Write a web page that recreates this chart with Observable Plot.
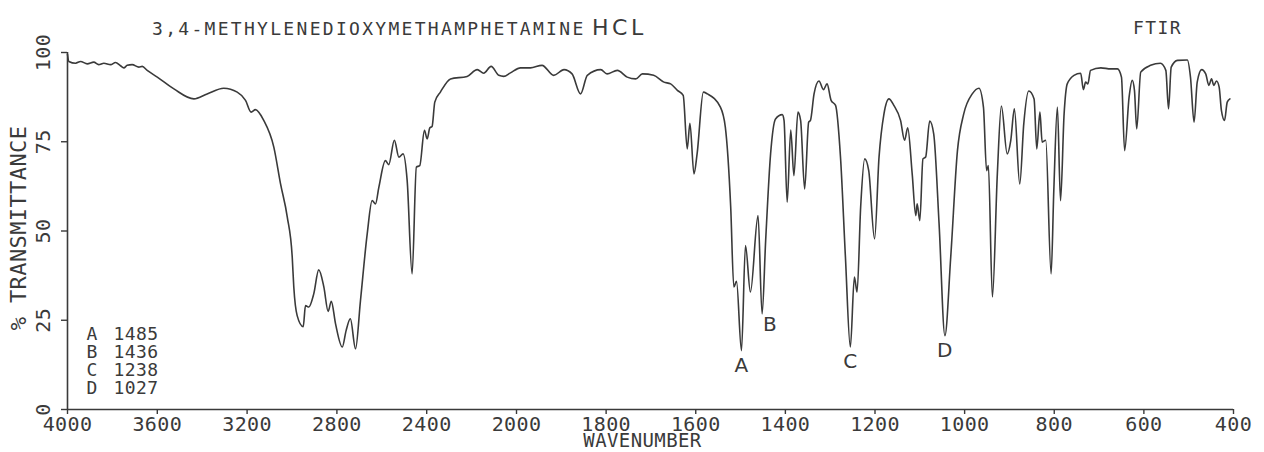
<!DOCTYPE html>
<html><head><meta charset="utf-8">
<script src="https://cdn.jsdelivr.net/npm/d3@7"></script>
<script src="https://cdn.jsdelivr.net/npm/@observablehq/plot@0.6"></script>
<style>
body{margin:0;background:#fff}
#wrap{position:relative;width:1264px;height:452px;overflow:hidden;background:#fff}
.lbl{position:absolute;font-family:"DejaVu Sans Mono",monospace;color:#3a3a3a;white-space:nowrap;line-height:1}
</style></head><body>
<div id="wrap">
<div id="chart"></div>
<div class="lbl" style="left:152px;top:20px;font-size:18px;letter-spacing:2.3px">3,4-METHYLENEDIOXYMETHAMPHETAMINE</div>
<div class="lbl" style="left:592px;top:17px;font-size:22px;letter-spacing:3.5px;font-family:'DejaVu Sans',sans-serif">HCL</div>
<div class="lbl" style="left:1133px;top:19px;font-size:18px;letter-spacing:1.4px">FTIR</div>
</div>
<script>
const wavenumber = [4000,3994,3964,3942,3912,3883,3861,3838,3808,3786,3764,3749,3734,3712,3682,3667,3645,3600,3526,3437,3378,3304,3244,3207,3182,3163,3126,3081,3051,3021,2999,2992,2977,2950,2940,2925,2903,2881,2858,2839,2825,2806,2776,2759,2740,2717,2695,2665,2643,2628,2613,2584,2569,2544,2524,2505,2487,2465,2446,2431,2410,2398,2386,2376,2364,2339,2294,2220,2175,2146,2113,2079,2057,2027,1991,1969,1943,1917,1894,1876,1857,1842,1812,1798,1775,1753,1734,1719,1694,1671,1656,1641,1628,1619,1613,1604,1597,1583,1574,1545,1534,1522,1515,1509,1498,1489,1478,1461,1452,1444,1433,1422,1407,1403,1396,1388,1381,1372,1366,1357,1348,1344,1336,1325,1315,1307,1298,1288,1277,1266,1255,1246,1240,1232,1223,1214,1201,1191,1180,1169,1158,1143,1134,1127,1117,1109,1106,1100,1093,1087,1078,1069,1057,1044,1031,1016,1002,983,968,958,951,947,938,927,918,905,897,889,877,868,857,845,839,832,827,819,807,801,793,786,778,771,756,741,735,730,725,719,696,674,659,650,643,633,626,621,616,607,585,563,551,545,539,525,503,496,488,481,471,462,455,449,444,438,432,427,420,414,408];
const transmittance = [99.5,97.5,97.0,97.5,96.8,97.3,96.6,97.0,96.6,97.2,96.3,95.7,96.4,96.6,95.9,96.1,95.0,93.1,89.8,87.0,88.4,90.0,88.9,86.6,83.3,84.0,81.0,73.5,63.2,53.9,42.7,34.3,26.3,23.2,29.1,28.7,32.4,39.1,34.3,27.5,30.3,24.0,17.5,22.1,25.4,17.0,30.5,49.2,58.5,57.6,62.3,69.7,68.6,75.4,70.7,71.6,64.1,38.0,67.9,68.3,78.2,75.8,78.9,79.3,86.1,88.9,92.6,93.3,95.2,94.2,96.1,93.6,93.3,94.3,95.7,95.7,96.4,93.6,95.2,94.0,88.4,93.6,95.2,94.0,95.0,93.1,92.6,94.0,93.6,91.7,91.2,89.4,88.0,73.0,80.2,66.0,71.6,88.9,88.4,84.7,79.1,56.7,34.3,35.9,16.5,45.9,32.9,54.3,26.8,47.3,71.6,81.4,82.6,81.0,58.1,78.3,65.5,83.3,81.0,61.8,80.5,81.0,88.4,92.0,89.6,91.2,86.6,85.2,70.7,42.7,17.5,37.1,32.9,56.7,70.2,66.9,47.8,70.7,82.8,87.0,85.2,81.0,75.4,78.9,66.0,54.3,57.6,52.9,70.2,70.7,80.8,77.2,52.0,20.7,42.7,72.5,82.8,88.4,90.0,84.7,66.9,68.3,31.5,66.0,85.0,71.6,75.4,84.2,63.2,80.0,89.2,87.0,73.0,83.3,74.9,75.4,38.0,61.3,84.7,58.5,82.8,91.2,93.6,94.2,89.6,91.7,91.2,95.0,95.7,95.4,95.4,93.1,72.5,87.5,92.2,89.4,78.6,94.5,96.4,97.0,95.0,84.2,95.9,97.8,97.9,93.1,80.5,91.7,95.2,94.0,90.8,92.6,90.8,92.0,90.3,83.8,81.0,86.1,87.0];
const xTicks = [4000,3600,3200,2800,2400,2000,1800,1600,1400,1200,1000,800,600,400];
const yTicks = [0,25,50,75,100];
const peakLetters = ["A","B","C","D"];
const peakValues = [1485,1436,1238,1027];

// Instrument chart paper: abscissa scale doubles below 2000 cm-1
const expand = 717 / 1600 / (449 / 2000);
const paper = w => w >= 2000 ? 4000 - w : 2000 + (2000 - w) * expand;
const paperTicks = xTicks.map(paper);
const tickLabel = u => d3.format("d")(xTicks[d3.minIndex(paperTicks, p => Math.abs(p - u))]);

const spectrum = wavenumber.map((w, i) => ({w, t: transmittance[i]}));
const peaks = peakLetters.map((k, i) => {
  const v = peakValues[i];
  const m = d3.least(spectrum.filter(d => Math.abs(d.w - v) <= 30), d => d.t);
  return {k, w: m.w, t: m.t};
});
const ink = "#3a3a3a";

const chart = Plot.plot({
  width: 1264, height: 452,
  marginLeft: 67, marginRight: 31, marginTop: 52, marginBottom: 43,
  style: {fontFamily: "'DejaVu Sans Mono', monospace", fontSize: "20px", color: ink, background: "transparent", letterSpacing: "0.4px"},
  x: {type: "linear", transform: paper, domain: [paper(4000), paper(400)]},
  y: {domain: [0, 100]},
  marks: [
    Plot.ruleX([4000], {stroke: ink, strokeWidth: 1.6}),
    Plot.ruleY([0], {stroke: ink, strokeWidth: 1.6}),
    Plot.axisX({ticks: paperTicks, tickFormat: tickLabel, tickSize: 5, tickPadding: 2, label: null, strokeWidth: 1.4}),
    Plot.axisY({ticks: yTicks, tickFormat: d3.format("d"), tickSize: 6, tickPadding: 12, tickRotate: -90, label: null, strokeWidth: 1.4}),
    Plot.text(["WAVENUMBER"], {frameAnchor: "bottom", textAnchor: "middle", lineAnchor: "middle", dx: -8, dy: 31, fontSize: 19}),
    Plot.text(["% TRANSMITTANCE"], {frameAnchor: "left", textAnchor: "middle", lineAnchor: "middle", dx: -49, dy: -3, rotate: -90, fontSize: 22}),
    Plot.line(spectrum, {x: "w", y: "t", stroke: ink, strokeWidth: 1.6, curve: "monotone-x"}),
    Plot.text(peaks.filter(d => d.k !== "B"), {x: "w", y: "t", text: "k", dy: 15, fontFamily: "'DejaVu Sans', sans-serif", fontSize: 20}),
    Plot.text(peaks.filter(d => d.k === "B"), {x: "w", y: "t", text: "k", dx: 8, dy: 11, fontFamily: "'DejaVu Sans', sans-serif", fontSize: 20}),
    Plot.text([peakLetters.join("\n")], {frameAnchor: "bottom-left", dx: 19, dy: -16, textAnchor: "start", lineAnchor: "bottom", lineHeight: 1, fontSize: 18}),
    Plot.text([peakValues.join("\n")], {frameAnchor: "bottom-left", dx: 46, dy: -16, textAnchor: "start", lineAnchor: "bottom", lineHeight: 1, fontSize: 18})
  ]
});
document.getElementById("chart").appendChild(chart);
</script>
</body></html>
